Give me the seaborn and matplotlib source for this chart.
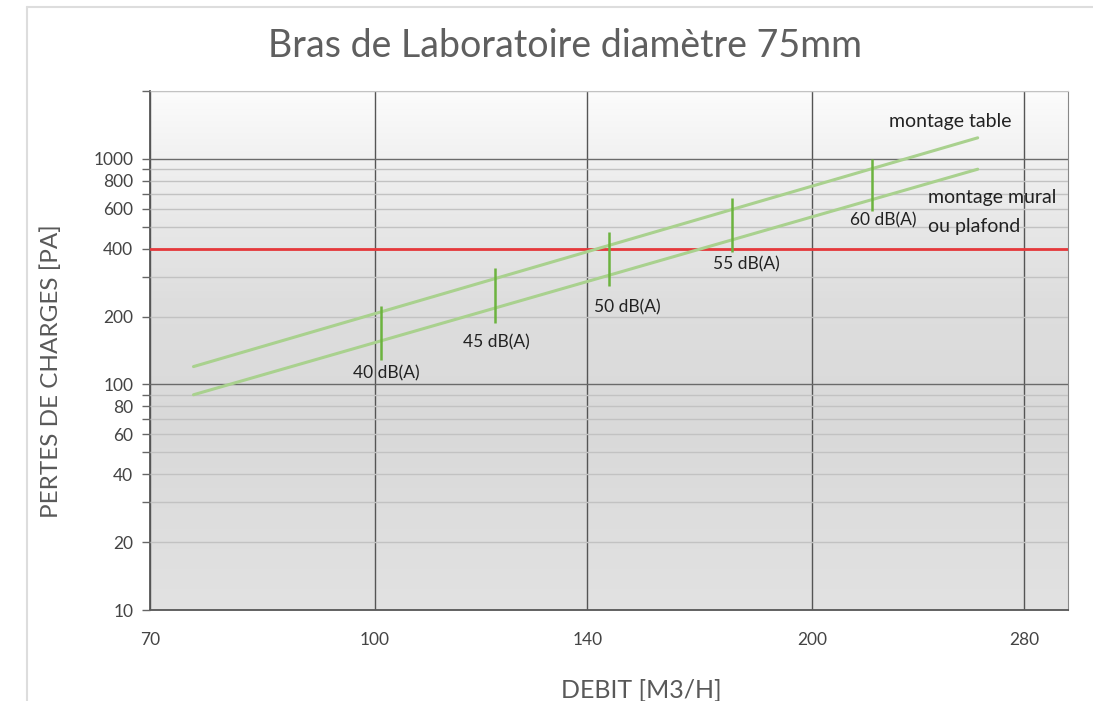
import numpy as np
import pandas as pd
import matplotlib.pyplot as plt
import seaborn as sns
from matplotlib.colors import LinearSegmentedColormap
from matplotlib.lines import Line2D
from matplotlib.ticker import FixedLocator, LogLocator, FuncFormatter, NullLocator

# data
debit = [75, 260]
pertes_table = [120, 1240]
pertes_mural = [90, 900]

db_labels = ['40 dB(A)', '45 dB(A)', '50 dB(A)', '55 dB(A)', '60 dB(A)']
db_debit = [101, 121, 145, 176, 220]
db_low = [128, 188, 272, 387, 588]
db_high = [222, 327, 474, 671, 1000]

limite_pa = 400
x_ticks = [70, 100, 140, 200, 280]
y_labels = [10, 20, 40, 60, 80, 100, 200, 400, 600, 800, 1000]

df = pd.DataFrame({
    'debit': debit + debit,
    'pertes': pertes_table + pertes_mural,
    'montage': ['table'] * 2 + ['mural'] * 2,
})

sns.set_style('white')
plt.rcParams['font.family'] = ['Lato', 'DejaVu Sans']

fig = plt.figure(figsize=(10.93, 7.01), dpi=100)
ax = fig.add_axes([0.1372, 0.1298, 0.8399, 0.7404])

# grey gradient background
cmap = LinearSegmentedColormap.from_list('bg', [
    (0.0, '#e2e2e2'), (0.35, '#d9d9d9'), (0.6, '#dedede'),
    (0.85, '#efefef'), (1.0, '#fcfcfc')])
grad = np.linspace(0, 1, 256).reshape(-1, 1)
ax.imshow(grad, extent=[0, 1, 0, 1], transform=ax.transAxes, origin='lower',
          aspect='auto', cmap=cmap, zorder=0)

ax.set_xscale('log')
ax.set_yscale('log')

sns.lineplot(data=df, x='debit', y='pertes', units='montage', estimator=None,
             color='#a9d18e', lw=2.2, ax=ax, legend=False, zorder=4)
ax.vlines(db_debit, db_low, db_high, color='#6cb33f', lw=1.8, zorder=5)
ax.axhline(limite_pa, color='#e5383b', lw=2, zorder=3)

ax.set_xlim(70, 300)
ax.set_ylim(10, 2000)

# ticks and grid
ax.xaxis.set_major_locator(FixedLocator(x_ticks))
ax.xaxis.set_major_formatter(FuncFormatter(lambda v, p: f'{v:g}'))
ax.xaxis.set_minor_locator(NullLocator())
ax.yaxis.set_major_locator(LogLocator(base=10, numticks=10))
ax.yaxis.set_minor_locator(LogLocator(base=10, subs=np.arange(2, 10), numticks=10))
fmt = FuncFormatter(lambda v, p: f'{v:g}' if round(v) in y_labels else '')
ax.yaxis.set_major_formatter(fmt)
ax.yaxis.set_minor_formatter(fmt)

ax.tick_params(axis='x', which='both', length=0, pad=16, labelsize=12.5, labelcolor='#444444')
ax.tick_params(axis='y', which='both', left=True, length=6, width=1, color='#666666',
               pad=6, labelsize=12.5, labelcolor='#444444')

ax.grid(True, which='major', axis='x', color='#555555', lw=1)
ax.grid(True, which='major', axis='y', color='#6a6a6a', lw=1)
ax.grid(True, which='minor', axis='y', color='#c2c2c2', lw=1)
ax.set_axisbelow(False)
for ln in ax.get_xgridlines() + ax.get_ygridlines():
    ln.set_zorder(1)

for s in ['left', 'bottom']:
    ax.spines[s].set_color('#555555')
    ax.spines[s].set_linewidth(1.3)
ax.spines['right'].set_color('#888888')
ax.spines['top'].set_color('#d0d0d0')

# annotations
db_text_pos = [(101.8, 112), (121.2, 153), (149.2, 219), (180.2, 340), (223.9, 536)]
for lab, (x, y) in zip(db_labels, db_text_pos):
    ax.text(x, y, lab, ha='center', va='center', fontsize=12.5, color='#222222', zorder=6)
ax.text(226, 1459, 'montage table', ha='left', va='center', fontsize=14, color='#222222')
ax.text(240.4, 671, 'montage mural', ha='left', va='center', fontsize=14, color='#222222', clip_on=False)
ax.text(240.4, 499, 'ou plafond', ha='left', va='center', fontsize=14, color='#222222')

fig.text(0.517, 0.935, 'Bras de Laboratoire diamètre 75mm', ha='center', va='center',
         fontsize=27, color='#5f5f5f')
ax.set_xlabel('')
ax.set_ylabel('')
fig.text(0.047, 0.47, 'PERTES DE CHARGES [PA]', rotation=90, ha='center', va='center',
         fontsize=17.5, color='#595959')
fig.text(0.587, 0.015, 'DEBIT [M3/H]', ha='center', va='center',
         fontsize=18, color='#595959')

# thin border of the original picture
fig.add_artist(Line2D([0.025, 1.0], [0.99, 0.99], transform=fig.transFigure, color='#dddddd', lw=1.5))
fig.add_artist(Line2D([0.025, 0.025], [0.0, 0.99], transform=fig.transFigure, color='#dddddd', lw=1.5))

fig.savefig('out.png', dpi=100)
